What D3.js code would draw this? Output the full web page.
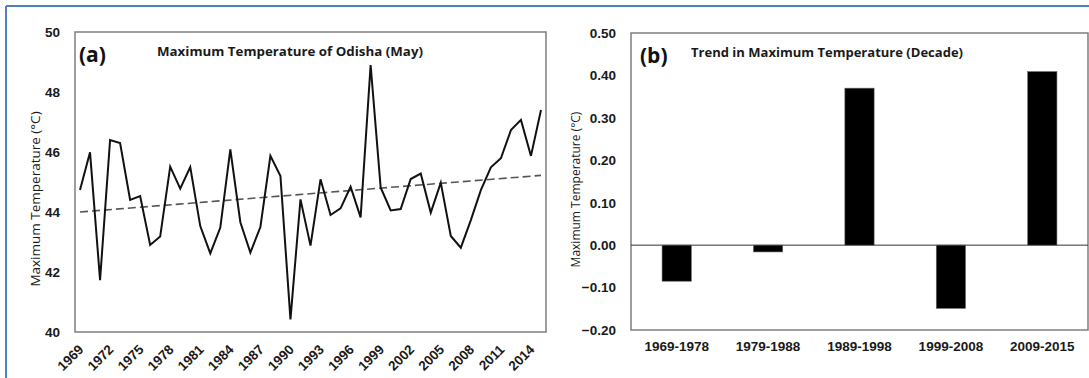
<!DOCTYPE html>
<html>
<head>
<meta charset="utf-8">
<script src="https://cdn.jsdelivr.net/npm/d3@7"></script>
<style>
  body { margin: 0; background: #fff; }
  svg { display: block; font-family: "Open Sans", sans-serif; }
  .axis path, .axis line { display: none; }
  .axis text { font-weight: bold; fill: #1a1a1a; font-size: 13.5px; }
</style>
</head>
<body>
<div id="chart"></div>
<script>
// (a) yearly May maximum temperature
var years = [1969, 1970, 1971, 1972, 1973, 1974, 1975, 1976, 1977, 1978,
  1979, 1980, 1981, 1982, 1983, 1984, 1985, 1986, 1987, 1988,
  1989, 1990, 1991, 1992, 1993, 1994, 1995, 1996, 1997, 1998,
  1999, 2000, 2001, 2002, 2003, 2004, 2005, 2006, 2007, 2008,
  2009, 2010, 2011, 2012, 2013, 2014, 2015]
var maxTemp = [44.73, 45.99, 41.73, 46.4, 46.3, 44.4, 44.53, 42.9, 43.18, 45.51,
  44.78, 45.5, 43.53, 42.62, 43.48, 46.09, 43.66, 42.65, 43.5, 45.87,
  45.2, 40.42, 44.42, 42.88, 45.09, 43.9, 44.12, 44.84, 43.82, 48.9,
  44.82, 44.05, 44.1, 45.1, 45.28, 43.98, 44.98, 43.2, 42.81, 43.73,
  44.73, 45.49, 45.79, 46.73, 47.07, 45.87, 47.4]
var yearTicks = [1969, 1972, 1975, 1978, 1981, 1984, 1987, 1990, 1993, 1996, 1999, 2002, 2005, 2008, 2011, 2014]
var tempTicks = [40, 42, 44, 46, 48, 50]
// linear trend line end points
var trendYears = [1969, 2015]
var trendTemp = [44.0, 45.22]

// (b) decadal trend
var decades = ["1969-1978", "1979-1988", "1989-1998", "1999-2008", "2009-2015"]
var decadeTrend = [-0.085, -0.016, 0.37, -0.149, 0.409]
var trendTicks = [-0.2, -0.1, 0, 0.1, 0.2, 0.3, 0.4, 0.5]

var width = 1089, height = 378

var svg = d3.select("#chart")
  .append("svg")
  .attr("width", width)
  .attr("height", height)

// blue frame round the figure
svg.append("line")
  .attr("x1", 6).attr("x2", width).attr("y1", 6).attr("y2", 6)
  .attr("stroke", "#4f81bd").attr("stroke-width", 2)
svg.append("line")
  .attr("x1", 6).attr("x2", 6).attr("y1", 6).attr("y2", height)
  .attr("stroke", "#4f81bd").attr("stroke-width", 2)

// ---------- panel (a) ----------
var a = { left: 75, right: 546, top: 32, bottom: 332 }

var xScaleA = d3.scaleBand()
  .domain(years)
  .range([a.left, a.right])

var yScaleA = d3.scaleLinear()
  .domain([40, 50])
  .range([a.bottom, a.top])

var cx = d => xScaleA(d) + xScaleA.bandwidth() / 2

svg.append("rect")
  .attr("x", a.left).attr("y", a.top)
  .attr("width", a.right - a.left).attr("height", a.bottom - a.top)
  .attr("fill", "none").attr("stroke", "#7f7f7f").attr("stroke-width", 1.5)

// Y axis
svg.append("g")
  .attr("class", "axis")
  .attr("transform", `translate(${a.left},0)`)
  .call(d3.axisLeft(yScaleA).tickValues(tempTicks).tickSize(0).tickPadding(15))

// X axis, rotated labels
svg.append("g")
  .attr("class", "axis")
  .attr("transform", `translate(0,${a.bottom})`)
  .call(d3.axisBottom(xScaleA).tickValues(yearTicks).tickSize(0))
  .selectAll("text")
  .attr("y", 0).attr("dy", "0.35em")
  .attr("font-size", "14px")
  .attr("text-anchor", "end")
  .attr("transform", "translate(1,15) rotate(-45)")

svg.append("text")
  .attr("transform", `translate(40,${(a.top + a.bottom) / 2 + 17}) rotate(-90)`)
  .attr("text-anchor", "middle")
  .attr("font-size", "13.5px")
  .attr("fill", "#1a1a1a")
  .text("Maximum Temperature (°C)")

// trend line
var line = d3.line()
  .x(d => cx(d[0]))
  .y(d => yScaleA(d[1]))

svg.append("path")
  .datum(trendYears.map((y, i) => [y, trendTemp[i]]))
  .attr("d", line)
  .attr("fill", "none")
  .attr("stroke", "#555")
  .attr("stroke-width", 1.6)
  .attr("stroke-dasharray", "8,4")

svg.append("path")
  .datum(years.map((y, i) => [y, maxTemp[i]]))
  .attr("d", line)
  .attr("fill", "none")
  .attr("stroke", "#111")
  .attr("stroke-width", 2)
  .attr("stroke-linejoin", "miter")

svg.append("text")
  .attr("x", 79).attr("y", 62)
  .attr("font-size", "21px").attr("font-weight", "bold")
  .attr("fill", "#111")
  .text("(a)")

svg.append("text")
  .attr("x", 157).attr("y", 56)
  .attr("font-size", "12.5px").attr("font-weight", "bold")
  .attr("fill", "#1a1a1a")
  .attr("textLength", 266).attr("lengthAdjust", "spacingAndGlyphs")
  .text("Maximum Temperature of Odisha (May)")

// ---------- panel (b) ----------
var b = { left: 631, right: 1088, top: 33, bottom: 330 }

var xScaleB = d3.scaleBand()
  .domain(decades)
  .range([b.left, b.right])

var yScaleB = d3.scaleLinear()
  .domain([-0.2, 0.5])
  .range([b.bottom, b.top])

svg.append("rect")
  .attr("x", b.left).attr("y", b.top)
  .attr("width", b.right - b.left).attr("height", b.bottom - b.top)
  .attr("fill", "none").attr("stroke", "#7f7f7f").attr("stroke-width", 1.5)

svg.append("g")
  .attr("class", "axis")
  .attr("transform", `translate(${b.left},0)`)
  .call(d3.axisLeft(yScaleB).tickValues(trendTicks).tickSize(0).tickPadding(15).tickFormat(d3.format(".2f")))

svg.append("g")
  .attr("class", "axis")
  .attr("transform", `translate(0,${b.bottom})`)
  .call(d3.axisBottom(xScaleB).tickSize(0).tickPadding(11))
  .selectAll("text")
  .attr("font-size", "14.5px")

svg.append("line")
  .attr("x1", b.left).attr("x2", b.right)
  .attr("y1", yScaleB(0)).attr("y2", yScaleB(0))
  .attr("stroke", "#333").attr("stroke-width", 1)

var barW = xScaleB.bandwidth() * 0.32

svg.selectAll("bars")
  .data(decades)
  .enter()
  .append("rect")
  .attr("x", d => xScaleB(d) + (xScaleB.bandwidth() - barW) / 2)
  .attr("y", (d, i) => yScaleB(Math.max(0, decadeTrend[i])))
  .attr("width", barW)
  .attr("height", (d, i) => Math.abs(yScaleB(decadeTrend[i]) - yScaleB(0)))
  .attr("fill", "#000")
  .attr("stroke", "#666")
  .attr("stroke-width", 0.6)

svg.append("text")
  .attr("transform", `translate(580,${(b.top + b.bottom) / 2 + 8}) rotate(-90)`)
  .attr("text-anchor", "middle")
  .attr("font-size", "12px")
  .attr("fill", "#1a1a1a")
  .text("Maximum Temperature (°C)")

svg.append("text")
  .attr("x", 640).attr("y", 63)
  .attr("font-size", "21px").attr("font-weight", "bold")
  .attr("fill", "#111")
  .text("(b)")

svg.append("text")
  .attr("x", 691).attr("y", 57)
  .attr("font-size", "12px").attr("font-weight", "bold")
  .attr("fill", "#1a1a1a")
  .attr("textLength", 272).attr("lengthAdjust", "spacingAndGlyphs")
  .text("Trend in Maximum Temperature (Decade)")
</script>
</body>
</html>
